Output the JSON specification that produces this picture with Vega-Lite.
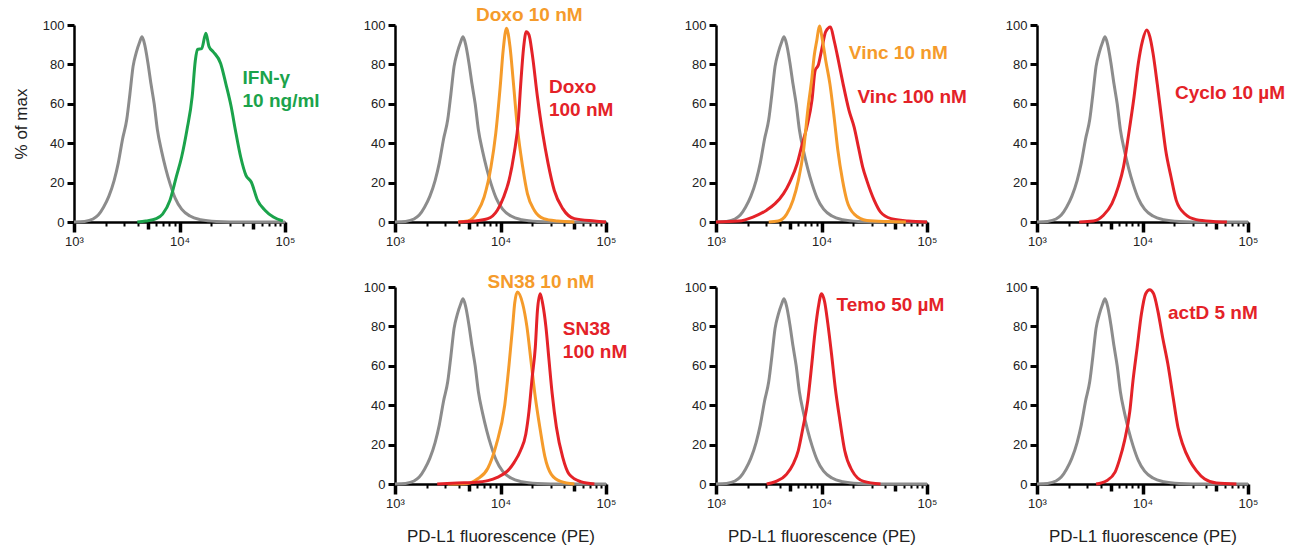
{
  "$schema": "https://vega.github.io/schema/vega-lite/v6.json",
  "background": "white",
  "padding": {"left": 12, "top": 6, "right": 5, "bottom": 5},
  "datasets": {
    "control": [
      {"x": 1000, "y": 0}, {"x": 1259, "y": 0.3}, {"x": 1514, "y": 1.5}, {"x": 1698, "y": 3.5},
      {"x": 1905, "y": 7.5}, {"x": 2138, "y": 13}, {"x": 2399, "y": 21}, {"x": 2630, "y": 30},
      {"x": 2884, "y": 42}, {"x": 3162, "y": 52}, {"x": 3388, "y": 65}, {"x": 3631, "y": 79},
      {"x": 3890, "y": 86}, {"x": 4169, "y": 91}, {"x": 4416, "y": 94}, {"x": 4677, "y": 90},
      {"x": 5012, "y": 81}, {"x": 5370, "y": 70}, {"x": 5754, "y": 60}, {"x": 6166, "y": 47},
      {"x": 6761, "y": 36}, {"x": 7413, "y": 27}, {"x": 8128, "y": 19.5}, {"x": 9120, "y": 12},
      {"x": 10471, "y": 6.5}, {"x": 12589, "y": 3}, {"x": 15849, "y": 1.2}, {"x": 22387, "y": 0.3},
      {"x": 39811, "y": 0}, {"x": 100000, "y": 0}
    ],
    "treated": [
      {"panel": "IFN", "series": "IFN-γ 10 ng/ml", "x": 3981, "y": 0},
      {"panel": "IFN", "series": "IFN-γ 10 ng/ml", "x": 4786, "y": 0.5},
      {"panel": "IFN", "series": "IFN-γ 10 ng/ml", "x": 6026, "y": 1.7},
      {"panel": "IFN", "series": "IFN-γ 10 ng/ml", "x": 6918, "y": 4},
      {"panel": "IFN", "series": "IFN-γ 10 ng/ml", "x": 8128, "y": 11},
      {"panel": "IFN", "series": "IFN-γ 10 ng/ml", "x": 9333, "y": 23},
      {"panel": "IFN", "series": "IFN-γ 10 ng/ml", "x": 10471, "y": 33},
      {"panel": "IFN", "series": "IFN-γ 10 ng/ml", "x": 11749, "y": 46.6},
      {"panel": "IFN", "series": "IFN-γ 10 ng/ml", "x": 13183, "y": 63.6},
      {"panel": "IFN", "series": "IFN-γ 10 ng/ml", "x": 14125, "y": 82},
      {"panel": "IFN", "series": "IFN-γ 10 ng/ml", "x": 14791, "y": 87.6},
      {"panel": "IFN", "series": "IFN-γ 10 ng/ml", "x": 16218, "y": 88},
      {"panel": "IFN", "series": "IFN-γ 10 ng/ml", "x": 17783, "y": 95.8},
      {"panel": "IFN", "series": "IFN-γ 10 ng/ml", "x": 19055, "y": 89},
      {"panel": "IFN", "series": "IFN-γ 10 ng/ml", "x": 20893, "y": 86.4},
      {"panel": "IFN", "series": "IFN-γ 10 ng/ml", "x": 24547, "y": 80.5},
      {"panel": "IFN", "series": "IFN-γ 10 ng/ml", "x": 27542, "y": 70},
      {"panel": "IFN", "series": "IFN-γ 10 ng/ml", "x": 30903, "y": 58.5},
      {"panel": "IFN", "series": "IFN-γ 10 ng/ml", "x": 33884, "y": 46.6},
      {"panel": "IFN", "series": "IFN-γ 10 ng/ml", "x": 38019, "y": 33},
      {"panel": "IFN", "series": "IFN-γ 10 ng/ml", "x": 42658, "y": 23.7},
      {"panel": "IFN", "series": "IFN-γ 10 ng/ml", "x": 47863, "y": 20.3},
      {"panel": "IFN", "series": "IFN-γ 10 ng/ml", "x": 54954, "y": 11},
      {"panel": "IFN", "series": "IFN-γ 10 ng/ml", "x": 64565, "y": 6},
      {"panel": "IFN", "series": "IFN-γ 10 ng/ml", "x": 77625, "y": 2.5},
      {"panel": "IFN", "series": "IFN-γ 10 ng/ml", "x": 95499, "y": 0.5},

      {"panel": "Doxo", "series": "Doxo 10 nM", "x": 3981, "y": 0},
      {"panel": "Doxo", "series": "Doxo 10 nM", "x": 4898, "y": 0.5},
      {"panel": "Doxo", "series": "Doxo 10 nM", "x": 6026, "y": 5},
      {"panel": "Doxo", "series": "Doxo 10 nM", "x": 7000, "y": 12.7},
      {"panel": "Doxo", "series": "Doxo 10 nM", "x": 8128, "y": 28},
      {"panel": "Doxo", "series": "Doxo 10 nM", "x": 9016, "y": 45},
      {"panel": "Doxo", "series": "Doxo 10 nM", "x": 9931, "y": 68.6},
      {"panel": "Doxo", "series": "Doxo 10 nM", "x": 10593, "y": 87},
      {"panel": "Doxo", "series": "Doxo 10 nM", "x": 11402, "y": 98.3},
      {"panel": "Doxo", "series": "Doxo 10 nM", "x": 12303, "y": 89},
      {"panel": "Doxo", "series": "Doxo 10 nM", "x": 13183, "y": 72},
      {"panel": "Doxo", "series": "Doxo 10 nM", "x": 14454, "y": 48},
      {"panel": "Doxo", "series": "Doxo 10 nM", "x": 16218, "y": 28},
      {"panel": "Doxo", "series": "Doxo 10 nM", "x": 17989, "y": 14.4},
      {"panel": "Doxo", "series": "Doxo 10 nM", "x": 20893, "y": 6},
      {"panel": "Doxo", "series": "Doxo 10 nM", "x": 25704, "y": 1.7},
      {"panel": "Doxo", "series": "Doxo 10 nM", "x": 34674, "y": 0.5},
      {"panel": "Doxo", "series": "Doxo 10 nM", "x": 50119, "y": 0},

      {"panel": "Doxo", "series": "Doxo 100 nM", "x": 3981, "y": 0},
      {"panel": "Doxo", "series": "Doxo 100 nM", "x": 5623, "y": 0.5},
      {"panel": "Doxo", "series": "Doxo 100 nM", "x": 7586, "y": 1.7},
      {"panel": "Doxo", "series": "Doxo 100 nM", "x": 9333, "y": 6},
      {"panel": "Doxo", "series": "Doxo 100 nM", "x": 10715, "y": 12.7},
      {"panel": "Doxo", "series": "Doxo 100 nM", "x": 12023, "y": 21},
      {"panel": "Doxo", "series": "Doxo 100 nM", "x": 13490, "y": 35},
      {"panel": "Doxo", "series": "Doxo 100 nM", "x": 14791, "y": 52},
      {"panel": "Doxo", "series": "Doxo 100 nM", "x": 15488, "y": 68.6},
      {"panel": "Doxo", "series": "Doxo 100 nM", "x": 16596, "y": 89},
      {"panel": "Doxo", "series": "Doxo 100 nM", "x": 17539, "y": 96.6},
      {"panel": "Doxo", "series": "Doxo 100 nM", "x": 18621, "y": 95},
      {"panel": "Doxo", "series": "Doxo 100 nM", "x": 19953, "y": 85.6},
      {"panel": "Doxo", "series": "Doxo 100 nM", "x": 22387, "y": 63.6},
      {"panel": "Doxo", "series": "Doxo 100 nM", "x": 25119, "y": 45},
      {"panel": "Doxo", "series": "Doxo 100 nM", "x": 28184, "y": 30},
      {"panel": "Doxo", "series": "Doxo 100 nM", "x": 32359, "y": 16},
      {"panel": "Doxo", "series": "Doxo 100 nM", "x": 38905, "y": 6.8},
      {"panel": "Doxo", "series": "Doxo 100 nM", "x": 50119, "y": 1.7},
      {"panel": "Doxo", "series": "Doxo 100 nM", "x": 77625, "y": 0.5},
      {"panel": "Doxo", "series": "Doxo 100 nM", "x": 100000, "y": 0},

      {"panel": "Vinc", "series": "Vinc 100 nM", "x": 1000, "y": 0},
      {"panel": "Vinc", "series": "Vinc 100 nM", "x": 1660, "y": 0.5},
      {"panel": "Vinc", "series": "Vinc 100 nM", "x": 2239, "y": 2.5},
      {"panel": "Vinc", "series": "Vinc 100 nM", "x": 3020, "y": 6},
      {"panel": "Vinc", "series": "Vinc 100 nM", "x": 3631, "y": 9.3},
      {"panel": "Vinc", "series": "Vinc 100 nM", "x": 4365, "y": 14.4},
      {"panel": "Vinc", "series": "Vinc 100 nM", "x": 5012, "y": 20.3},
      {"panel": "Vinc", "series": "Vinc 100 nM", "x": 5888, "y": 29.7},
      {"panel": "Vinc", "series": "Vinc 100 nM", "x": 6457, "y": 38},
      {"panel": "Vinc", "series": "Vinc 100 nM", "x": 7244, "y": 48},
      {"panel": "Vinc", "series": "Vinc 100 nM", "x": 8128, "y": 62},
      {"panel": "Vinc", "series": "Vinc 100 nM", "x": 8710, "y": 77},
      {"panel": "Vinc", "series": "Vinc 100 nM", "x": 9333, "y": 79.7},
      {"panel": "Vinc", "series": "Vinc 100 nM", "x": 10000, "y": 87},
      {"panel": "Vinc", "series": "Vinc 100 nM", "x": 10965, "y": 96.6},
      {"panel": "Vinc", "series": "Vinc 100 nM", "x": 12162, "y": 99},
      {"panel": "Vinc", "series": "Vinc 100 nM", "x": 13183, "y": 92},
      {"panel": "Vinc", "series": "Vinc 100 nM", "x": 14454, "y": 82},
      {"panel": "Vinc", "series": "Vinc 100 nM", "x": 16032, "y": 70},
      {"panel": "Vinc", "series": "Vinc 100 nM", "x": 18197, "y": 56.8},
      {"panel": "Vinc", "series": "Vinc 100 nM", "x": 20417, "y": 48},
      {"panel": "Vinc", "series": "Vinc 100 nM", "x": 22387, "y": 38},
      {"panel": "Vinc", "series": "Vinc 100 nM", "x": 24547, "y": 28},
      {"panel": "Vinc", "series": "Vinc 100 nM", "x": 26915, "y": 21},
      {"panel": "Vinc", "series": "Vinc 100 nM", "x": 31623, "y": 11},
      {"panel": "Vinc", "series": "Vinc 100 nM", "x": 36308, "y": 5},
      {"panel": "Vinc", "series": "Vinc 100 nM", "x": 45709, "y": 1.7},
      {"panel": "Vinc", "series": "Vinc 100 nM", "x": 66069, "y": 0.5},
      {"panel": "Vinc", "series": "Vinc 100 nM", "x": 100000, "y": 0},

      {"panel": "Vinc", "series": "Vinc 10 nM", "x": 3162, "y": 0},
      {"panel": "Vinc", "series": "Vinc 10 nM", "x": 3890, "y": 0.5},
      {"panel": "Vinc", "series": "Vinc 10 nM", "x": 4677, "y": 4},
      {"panel": "Vinc", "series": "Vinc 10 nM", "x": 5370, "y": 11},
      {"panel": "Vinc", "series": "Vinc 10 nM", "x": 6026, "y": 21},
      {"panel": "Vinc", "series": "Vinc 10 nM", "x": 6761, "y": 36.4},
      {"panel": "Vinc", "series": "Vinc 10 nM", "x": 7413, "y": 56.8},
      {"panel": "Vinc", "series": "Vinc 10 nM", "x": 8128, "y": 73.7},
      {"panel": "Vinc", "series": "Vinc 10 nM", "x": 8511, "y": 84},
      {"panel": "Vinc", "series": "Vinc 10 nM", "x": 9016, "y": 92},
      {"panel": "Vinc", "series": "Vinc 10 nM", "x": 9550, "y": 99.5},
      {"panel": "Vinc", "series": "Vinc 10 nM", "x": 10233, "y": 92},
      {"panel": "Vinc", "series": "Vinc 10 nM", "x": 10965, "y": 82},
      {"panel": "Vinc", "series": "Vinc 10 nM", "x": 12023, "y": 70},
      {"panel": "Vinc", "series": "Vinc 10 nM", "x": 13183, "y": 53},
      {"panel": "Vinc", "series": "Vinc 10 nM", "x": 14289, "y": 36.4},
      {"panel": "Vinc", "series": "Vinc 10 nM", "x": 15849, "y": 21},
      {"panel": "Vinc", "series": "Vinc 10 nM", "x": 17378, "y": 11},
      {"panel": "Vinc", "series": "Vinc 10 nM", "x": 20417, "y": 4},
      {"panel": "Vinc", "series": "Vinc 10 nM", "x": 26915, "y": 0.8},
      {"panel": "Vinc", "series": "Vinc 10 nM", "x": 42658, "y": 0.2},
      {"panel": "Vinc", "series": "Vinc 10 nM", "x": 63096, "y": 0},

      {"panel": "Cyclo", "series": "Cyclo 10 µM", "x": 2512, "y": 0},
      {"panel": "Cyclo", "series": "Cyclo 10 µM", "x": 3428, "y": 0.5},
      {"panel": "Cyclo", "series": "Cyclo 10 µM", "x": 4266, "y": 3.4},
      {"panel": "Cyclo", "series": "Cyclo 10 µM", "x": 5129, "y": 9.3},
      {"panel": "Cyclo", "series": "Cyclo 10 µM", "x": 5888, "y": 17.8},
      {"panel": "Cyclo", "series": "Cyclo 10 µM", "x": 6607, "y": 28},
      {"panel": "Cyclo", "series": "Cyclo 10 µM", "x": 7413, "y": 45},
      {"panel": "Cyclo", "series": "Cyclo 10 µM", "x": 8318, "y": 63.6},
      {"panel": "Cyclo", "series": "Cyclo 10 µM", "x": 9120, "y": 80.5},
      {"panel": "Cyclo", "series": "Cyclo 10 µM", "x": 10000, "y": 92},
      {"panel": "Cyclo", "series": "Cyclo 10 µM", "x": 10965, "y": 97.5},
      {"panel": "Cyclo", "series": "Cyclo 10 µM", "x": 11749, "y": 94},
      {"panel": "Cyclo", "series": "Cyclo 10 µM", "x": 12589, "y": 85.6},
      {"panel": "Cyclo", "series": "Cyclo 10 µM", "x": 13804, "y": 70},
      {"panel": "Cyclo", "series": "Cyclo 10 µM", "x": 15136, "y": 53},
      {"panel": "Cyclo", "series": "Cyclo 10 µM", "x": 16596, "y": 36.4},
      {"panel": "Cyclo", "series": "Cyclo 10 µM", "x": 18621, "y": 23},
      {"panel": "Cyclo", "series": "Cyclo 10 µM", "x": 20893, "y": 11},
      {"panel": "Cyclo", "series": "Cyclo 10 µM", "x": 25119, "y": 4.2},
      {"panel": "Cyclo", "series": "Cyclo 10 µM", "x": 32359, "y": 1.2},
      {"panel": "Cyclo", "series": "Cyclo 10 µM", "x": 46774, "y": 0.3},
      {"panel": "Cyclo", "series": "Cyclo 10 µM", "x": 63096, "y": 0},

      {"panel": "SN38", "series": "SN38 10 nM", "x": 3162, "y": 0},
      {"panel": "SN38", "series": "SN38 10 nM", "x": 4898, "y": 0.3},
      {"panel": "SN38", "series": "SN38 10 nM", "x": 6026, "y": 2.5},
      {"panel": "SN38", "series": "SN38 10 nM", "x": 7586, "y": 8},
      {"panel": "SN38", "series": "SN38 10 nM", "x": 9120, "y": 20},
      {"panel": "SN38", "series": "SN38 10 nM", "x": 10965, "y": 40},
      {"panel": "SN38", "series": "SN38 10 nM", "x": 12023, "y": 60},
      {"panel": "SN38", "series": "SN38 10 nM", "x": 13032, "y": 80},
      {"panel": "SN38", "series": "SN38 10 nM", "x": 13646, "y": 92},
      {"panel": "SN38", "series": "SN38 10 nM", "x": 14454, "y": 97.5},
      {"panel": "SN38", "series": "SN38 10 nM", "x": 16218, "y": 91.5},
      {"panel": "SN38", "series": "SN38 10 nM", "x": 17783, "y": 80},
      {"panel": "SN38", "series": "SN38 10 nM", "x": 19498, "y": 62},
      {"panel": "SN38", "series": "SN38 10 nM", "x": 21380, "y": 44},
      {"panel": "SN38", "series": "SN38 10 nM", "x": 23714, "y": 28},
      {"panel": "SN38", "series": "SN38 10 nM", "x": 26303, "y": 14},
      {"panel": "SN38", "series": "SN38 10 nM", "x": 30200, "y": 5},
      {"panel": "SN38", "series": "SN38 10 nM", "x": 37154, "y": 1.3},
      {"panel": "SN38", "series": "SN38 10 nM", "x": 50119, "y": 0},

      {"panel": "SN38", "series": "SN38 100 nM", "x": 2512, "y": 0},
      {"panel": "SN38", "series": "SN38 100 nM", "x": 3890, "y": 0.5},
      {"panel": "SN38", "series": "SN38 100 nM", "x": 5623, "y": 0.8},
      {"panel": "SN38", "series": "SN38 100 nM", "x": 7586, "y": 1.7},
      {"panel": "SN38", "series": "SN38 100 nM", "x": 9333, "y": 3.4},
      {"panel": "SN38", "series": "SN38 100 nM", "x": 11749, "y": 6.8},
      {"panel": "SN38", "series": "SN38 100 nM", "x": 13490, "y": 11},
      {"panel": "SN38", "series": "SN38 100 nM", "x": 15488, "y": 17},
      {"panel": "SN38", "series": "SN38 100 nM", "x": 17378, "y": 25.4},
      {"panel": "SN38", "series": "SN38 100 nM", "x": 18621, "y": 37},
      {"panel": "SN38", "series": "SN38 100 nM", "x": 19953, "y": 54},
      {"panel": "SN38", "series": "SN38 100 nM", "x": 21380, "y": 69.5},
      {"panel": "SN38", "series": "SN38 100 nM", "x": 22387, "y": 88},
      {"panel": "SN38", "series": "SN38 100 nM", "x": 23768, "y": 96.6},
      {"panel": "SN38", "series": "SN38 100 nM", "x": 25119, "y": 91.5},
      {"panel": "SN38", "series": "SN38 100 nM", "x": 26915, "y": 80},
      {"panel": "SN38", "series": "SN38 100 nM", "x": 28840, "y": 62.7},
      {"panel": "SN38", "series": "SN38 100 nM", "x": 30903, "y": 45.8},
      {"panel": "SN38", "series": "SN38 100 nM", "x": 33884, "y": 28.8},
      {"panel": "SN38", "series": "SN38 100 nM", "x": 38905, "y": 13.5},
      {"panel": "SN38", "series": "SN38 100 nM", "x": 44668, "y": 5},
      {"panel": "SN38", "series": "SN38 100 nM", "x": 57544, "y": 1.2},
      {"panel": "SN38", "series": "SN38 100 nM", "x": 77625, "y": 0},

      {"panel": "Temo", "series": "Temo 50 µM", "x": 3020, "y": 0},
      {"panel": "Temo", "series": "Temo 50 µM", "x": 3715, "y": 1.3},
      {"panel": "Temo", "series": "Temo 50 µM", "x": 4677, "y": 5},
      {"panel": "Temo", "series": "Temo 50 µM", "x": 5370, "y": 10},
      {"panel": "Temo", "series": "Temo 50 µM", "x": 6026, "y": 17},
      {"panel": "Temo", "series": "Temo 50 µM", "x": 6683, "y": 28.8},
      {"panel": "Temo", "series": "Temo 50 µM", "x": 7413, "y": 42.4},
      {"panel": "Temo", "series": "Temo 50 µM", "x": 8035, "y": 59.3},
      {"panel": "Temo", "series": "Temo 50 µM", "x": 8650, "y": 76.3},
      {"panel": "Temo", "series": "Temo 50 µM", "x": 9333, "y": 89.8},
      {"panel": "Temo", "series": "Temo 50 µM", "x": 10000, "y": 96.6},
      {"panel": "Temo", "series": "Temo 50 µM", "x": 10715, "y": 92.4},
      {"panel": "Temo", "series": "Temo 50 µM", "x": 11482, "y": 81.4},
      {"panel": "Temo", "series": "Temo 50 µM", "x": 12445, "y": 66},
      {"panel": "Temo", "series": "Temo 50 µM", "x": 13490, "y": 49},
      {"panel": "Temo", "series": "Temo 50 µM", "x": 14962, "y": 32},
      {"panel": "Temo", "series": "Temo 50 µM", "x": 16596, "y": 17},
      {"panel": "Temo", "series": "Temo 50 µM", "x": 19498, "y": 6.8},
      {"panel": "Temo", "series": "Temo 50 µM", "x": 25119, "y": 1.3},
      {"panel": "Temo", "series": "Temo 50 µM", "x": 36308, "y": 0},

      {"panel": "actD", "series": "actD 5 nM", "x": 3631, "y": 0},
      {"panel": "actD", "series": "actD 5 nM", "x": 4571, "y": 1.7},
      {"panel": "actD", "series": "actD 5 nM", "x": 5495, "y": 6},
      {"panel": "actD", "series": "actD 5 nM", "x": 6026, "y": 12},
      {"panel": "actD", "series": "actD 5 nM", "x": 6761, "y": 22},
      {"panel": "actD", "series": "actD 5 nM", "x": 7586, "y": 37},
      {"panel": "actD", "series": "actD 5 nM", "x": 8128, "y": 52.5},
      {"panel": "actD", "series": "actD 5 nM", "x": 8913, "y": 69.5},
      {"panel": "actD", "series": "actD 5 nM", "x": 9772, "y": 86.4},
      {"panel": "actD", "series": "actD 5 nM", "x": 10715, "y": 96.6},
      {"panel": "actD", "series": "actD 5 nM", "x": 11695, "y": 98.6},
      {"panel": "actD", "series": "actD 5 nM", "x": 12735, "y": 96.6},
      {"panel": "actD", "series": "actD 5 nM", "x": 13964, "y": 88},
      {"panel": "actD", "series": "actD 5 nM", "x": 15488, "y": 74.6},
      {"panel": "actD", "series": "actD 5 nM", "x": 17378, "y": 61},
      {"panel": "actD", "series": "actD 5 nM", "x": 19498, "y": 44},
      {"panel": "actD", "series": "actD 5 nM", "x": 21677, "y": 28.8},
      {"panel": "actD", "series": "actD 5 nM", "x": 23988, "y": 20.3},
      {"panel": "actD", "series": "actD 5 nM", "x": 27990, "y": 11.9},
      {"panel": "actD", "series": "actD 5 nM", "x": 32359, "y": 6.8},
      {"panel": "actD", "series": "actD 5 nM", "x": 38905, "y": 2.5},
      {"panel": "actD", "series": "actD 5 nM", "x": 50119, "y": 0.5},
      {"panel": "actD", "series": "actD 5 nM", "x": 77625, "y": 0}
    ]
  },
  "columns": 4,
  "spacing": {"row": 65, "column": 110},
  "bounds": "flush",
  "concat": [
    {
      "width": 211, "height": 197,
      "layer": [
        {"data": {"name": "control"}, "mark": {"type": "line", "color": "#8c8c8c", "strokeWidth": 3, "interpolate": "monotone"},
         "encoding": {
          "x": {"field": "x", "type": "quantitative", "scale": {"type": "log", "domain": [1000, 100000], "nice": false},
                "axis": {"values": [1000,2000,3000,4000,5000,6000,7000,8000,9000,10000,20000,30000,40000,50000,60000,70000,80000,90000,100000],
                         "labelExpr": "datum.value == 1000 ? '10³' : datum.value == 10000 ? '10⁴' : datum.value == 100000 ? '10⁵' : ''",
                         "labelFlush": false, "labelOverlap": {"expr": "false"},
                         "tickSize": {"condition": [{"test": "datum.value == 1000 || datum.value == 10000 || datum.value == 100000", "value": 10}, {"test": "datum.value == 5000 || datum.value == 50000", "value": 7}], "value": 4},
                         "tickWidth": {"condition": {"test": "datum.value == 1000 || datum.value == 10000 || datum.value == 100000 || datum.value == 5000 || datum.value == 50000", "value": 3.5}, "value": 2},
                         "title": null}},
          "y": {"field": "y", "type": "quantitative", "scale": {"domain": [0, 100], "nice": false},
                "axis": {"values": [0,20,40,60,80,100], "tickCount": 6, "labelOverlap": {"expr": "false"}, "labelBound": false, "labelSeparation": 0, "title": "% of max"}}
         }},
        {"data": {"name": "treated"}, "transform": [{"filter": "datum.panel == 'IFN'"}],
         "mark": {"type": "line", "strokeWidth": 3, "interpolate": "monotone"},
         "encoding": {"x": {"field": "x", "type": "quantitative"}, "y": {"field": "y", "type": "quantitative"},
          "color": {"field": "series", "type": "nominal", "legend": null,
            "scale": {"domain": ["IFN-γ 10 ng/ml","Doxo 10 nM","Doxo 100 nM","Vinc 10 nM","Vinc 100 nM","Cyclo 10 µM","SN38 10 nM","SN38 100 nM","Temo 50 µM","actD 5 nM"],
                      "range": ["#1ba34b","#f59b2b","#e42228","#f59b2b","#e42228","#e42228","#f59b2b","#e42228","#e42228","#e42228"]}}}},
        {"data": {"values": [{}]}, "mark": {"type": "text", "text": ["IFN-γ", "10 ng/ml"], "color": "#1ba34b", "align": "left", "baseline": "middle", "lineHeight": 23},
         "encoding": {"x": {"datum": 39600}, "y": {"datum": 73.3}}}
      ]
    },
    {
      "width": 211, "height": 197,
      "layer": [
        {"data": {"name": "control"}, "mark": {"type": "line", "color": "#8c8c8c", "strokeWidth": 3, "interpolate": "monotone"},
         "encoding": {
          "x": {"field": "x", "type": "quantitative", "scale": {"type": "log", "domain": [1000, 100000], "nice": false},
                "axis": {"values": [1000,2000,3000,4000,5000,6000,7000,8000,9000,10000,20000,30000,40000,50000,60000,70000,80000,90000,100000],
                         "labelExpr": "datum.value == 1000 ? '10³' : datum.value == 10000 ? '10⁴' : datum.value == 100000 ? '10⁵' : ''",
                         "labelFlush": false, "labelOverlap": {"expr": "false"},
                         "tickSize": {"condition": [{"test": "datum.value == 1000 || datum.value == 10000 || datum.value == 100000", "value": 10}, {"test": "datum.value == 5000 || datum.value == 50000", "value": 7}], "value": 4},
                         "tickWidth": {"condition": {"test": "datum.value == 1000 || datum.value == 10000 || datum.value == 100000 || datum.value == 5000 || datum.value == 50000", "value": 3.5}, "value": 2},
                         "title": null}},
          "y": {"field": "y", "type": "quantitative", "scale": {"domain": [0, 100], "nice": false},
                "axis": {"values": [0,20,40,60,80,100], "tickCount": 6, "labelOverlap": {"expr": "false"}, "labelBound": false, "labelSeparation": 0, "title": null}}
         }},
        {"data": {"name": "treated"}, "transform": [{"filter": "datum.panel == 'Doxo'"}],
         "mark": {"type": "line", "strokeWidth": 3, "interpolate": "monotone"},
         "encoding": {"x": {"field": "x", "type": "quantitative"}, "y": {"field": "y", "type": "quantitative"},
          "color": {"field": "series", "type": "nominal", "legend": null,
            "scale": {"domain": ["IFN-γ 10 ng/ml","Doxo 10 nM","Doxo 100 nM","Vinc 10 nM","Vinc 100 nM","Cyclo 10 µM","SN38 10 nM","SN38 100 nM","Temo 50 µM","actD 5 nM"],
                      "range": ["#1ba34b","#f59b2b","#e42228","#f59b2b","#e42228","#e42228","#f59b2b","#e42228","#e42228","#e42228"]}}}},
        {"data": {"values": [{}]}, "mark": {"type": "text", "text": "Doxo 10 nM", "color": "#f59b2b", "align": "left", "baseline": "middle"},
         "encoding": {"x": {"datum": 5860}, "y": {"datum": 105}}},
        {"data": {"values": [{}]}, "mark": {"type": "text", "text": ["Doxo", "100 nM"], "color": "#e42228", "align": "left", "baseline": "middle", "lineHeight": 23},
         "encoding": {"x": {"datum": 28800}, "y": {"datum": 68.3}}}
      ]
    },
    {
      "width": 211, "height": 197,
      "layer": [
        {"data": {"name": "control"}, "mark": {"type": "line", "color": "#8c8c8c", "strokeWidth": 3, "interpolate": "monotone"},
         "encoding": {
          "x": {"field": "x", "type": "quantitative", "scale": {"type": "log", "domain": [1000, 100000], "nice": false},
                "axis": {"values": [1000,2000,3000,4000,5000,6000,7000,8000,9000,10000,20000,30000,40000,50000,60000,70000,80000,90000,100000],
                         "labelExpr": "datum.value == 1000 ? '10³' : datum.value == 10000 ? '10⁴' : datum.value == 100000 ? '10⁵' : ''",
                         "labelFlush": false, "labelOverlap": {"expr": "false"},
                         "tickSize": {"condition": [{"test": "datum.value == 1000 || datum.value == 10000 || datum.value == 100000", "value": 10}, {"test": "datum.value == 5000 || datum.value == 50000", "value": 7}], "value": 4},
                         "tickWidth": {"condition": {"test": "datum.value == 1000 || datum.value == 10000 || datum.value == 100000 || datum.value == 5000 || datum.value == 50000", "value": 3.5}, "value": 2},
                         "title": null}},
          "y": {"field": "y", "type": "quantitative", "scale": {"domain": [0, 100], "nice": false},
                "axis": {"values": [0,20,40,60,80,100], "tickCount": 6, "labelOverlap": {"expr": "false"}, "labelBound": false, "labelSeparation": 0, "title": null}}
         }},
        {"data": {"name": "treated"}, "transform": [{"filter": "datum.panel == 'Vinc'"}],
         "mark": {"type": "line", "strokeWidth": 3, "interpolate": "monotone"},
         "encoding": {"x": {"field": "x", "type": "quantitative"}, "y": {"field": "y", "type": "quantitative"},
          "color": {"field": "series", "type": "nominal", "legend": null,
            "scale": {"domain": ["IFN-γ 10 ng/ml","Doxo 10 nM","Doxo 100 nM","Vinc 10 nM","Vinc 100 nM","Cyclo 10 µM","SN38 10 nM","SN38 100 nM","Temo 50 µM","actD 5 nM"],
                      "range": ["#1ba34b","#f59b2b","#e42228","#f59b2b","#e42228","#e42228","#f59b2b","#e42228","#e42228","#e42228"]}}}},
        {"data": {"values": [{}]}, "mark": {"type": "text", "text": "Vinc 10 nM", "color": "#f59b2b", "align": "left", "baseline": "middle"},
         "encoding": {"x": {"datum": 18150}, "y": {"datum": 85.6}}},
        {"data": {"values": [{}]}, "mark": {"type": "text", "text": "Vinc 100 nM", "color": "#e42228", "align": "left", "baseline": "middle"},
         "encoding": {"x": {"datum": 21900}, "y": {"datum": 63.6}}}
      ]
    },
    {
      "width": 211, "height": 197,
      "layer": [
        {"data": {"name": "control"}, "mark": {"type": "line", "color": "#8c8c8c", "strokeWidth": 3, "interpolate": "monotone"},
         "encoding": {
          "x": {"field": "x", "type": "quantitative", "scale": {"type": "log", "domain": [1000, 100000], "nice": false},
                "axis": {"values": [1000,2000,3000,4000,5000,6000,7000,8000,9000,10000,20000,30000,40000,50000,60000,70000,80000,90000,100000],
                         "labelExpr": "datum.value == 1000 ? '10³' : datum.value == 10000 ? '10⁴' : datum.value == 100000 ? '10⁵' : ''",
                         "labelFlush": false, "labelOverlap": {"expr": "false"},
                         "tickSize": {"condition": [{"test": "datum.value == 1000 || datum.value == 10000 || datum.value == 100000", "value": 10}, {"test": "datum.value == 5000 || datum.value == 50000", "value": 7}], "value": 4},
                         "tickWidth": {"condition": {"test": "datum.value == 1000 || datum.value == 10000 || datum.value == 100000 || datum.value == 5000 || datum.value == 50000", "value": 3.5}, "value": 2},
                         "title": null}},
          "y": {"field": "y", "type": "quantitative", "scale": {"domain": [0, 100], "nice": false},
                "axis": {"values": [0,20,40,60,80,100], "tickCount": 6, "labelOverlap": {"expr": "false"}, "labelBound": false, "labelSeparation": 0, "title": null}}
         }},
        {"data": {"name": "treated"}, "transform": [{"filter": "datum.panel == 'Cyclo'"}],
         "mark": {"type": "line", "strokeWidth": 3, "interpolate": "monotone"},
         "encoding": {"x": {"field": "x", "type": "quantitative"}, "y": {"field": "y", "type": "quantitative"},
          "color": {"field": "series", "type": "nominal", "legend": null,
            "scale": {"domain": ["IFN-γ 10 ng/ml","Doxo 10 nM","Doxo 100 nM","Vinc 10 nM","Vinc 100 nM","Cyclo 10 µM","SN38 10 nM","SN38 100 nM","Temo 50 µM","actD 5 nM"],
                      "range": ["#1ba34b","#f59b2b","#e42228","#f59b2b","#e42228","#e42228","#f59b2b","#e42228","#e42228","#e42228"]}}}},
        {"data": {"values": [{}]}, "mark": {"type": "text", "text": "Cyclo 10 µM", "color": "#e42228", "align": "left", "baseline": "middle"},
         "encoding": {"x": {"datum": 20300}, "y": {"datum": 65.3}}}
      ]
    },
    {
      "width": 211, "height": 197,
      "data": {"values": [{}]},
      "mark": {"type": "point", "opacity": 0},
      "encoding": {}
    },
    {
      "width": 211, "height": 197,
      "layer": [
        {"data": {"name": "control"}, "mark": {"type": "line", "color": "#8c8c8c", "strokeWidth": 3, "interpolate": "monotone"},
         "encoding": {
          "x": {"field": "x", "type": "quantitative", "scale": {"type": "log", "domain": [1000, 100000], "nice": false},
                "axis": {"values": [1000,2000,3000,4000,5000,6000,7000,8000,9000,10000,20000,30000,40000,50000,60000,70000,80000,90000,100000],
                         "labelExpr": "datum.value == 1000 ? '10³' : datum.value == 10000 ? '10⁴' : datum.value == 100000 ? '10⁵' : ''",
                         "labelFlush": false, "labelOverlap": {"expr": "false"},
                         "tickSize": {"condition": [{"test": "datum.value == 1000 || datum.value == 10000 || datum.value == 100000", "value": 10}, {"test": "datum.value == 5000 || datum.value == 50000", "value": 7}], "value": 4},
                         "tickWidth": {"condition": {"test": "datum.value == 1000 || datum.value == 10000 || datum.value == 100000 || datum.value == 5000 || datum.value == 50000", "value": 3.5}, "value": 2},
                         "title": "PD-L1 fluorescence (PE)"}},
          "y": {"field": "y", "type": "quantitative", "scale": {"domain": [0, 100], "nice": false},
                "axis": {"values": [0,20,40,60,80,100], "tickCount": 6, "labelOverlap": {"expr": "false"}, "labelBound": false, "labelSeparation": 0, "title": null}}
         }},
        {"data": {"name": "treated"}, "transform": [{"filter": "datum.panel == 'SN38'"}],
         "mark": {"type": "line", "strokeWidth": 3, "interpolate": "monotone"},
         "encoding": {"x": {"field": "x", "type": "quantitative"}, "y": {"field": "y", "type": "quantitative"},
          "color": {"field": "series", "type": "nominal", "legend": null,
            "scale": {"domain": ["IFN-γ 10 ng/ml","Doxo 10 nM","Doxo 100 nM","Vinc 10 nM","Vinc 100 nM","Cyclo 10 µM","SN38 10 nM","SN38 100 nM","Temo 50 µM","actD 5 nM"],
                      "range": ["#1ba34b","#f59b2b","#e42228","#f59b2b","#e42228","#e42228","#f59b2b","#e42228","#e42228","#e42228"]}}}},
        {"data": {"values": [{}]}, "mark": {"type": "text", "text": "SN38 10 nM", "color": "#f59b2b", "align": "left", "baseline": "middle"},
         "encoding": {"x": {"datum": 7540}, "y": {"datum": 102.5}}},
        {"data": {"values": [{}]}, "mark": {"type": "text", "text": ["SN38", "100 nM"], "color": "#e42228", "align": "left", "baseline": "middle", "lineHeight": 23},
         "encoding": {"x": {"datum": 39000}, "y": {"datum": 78.8}}}
      ]
    },
    {
      "width": 211, "height": 197,
      "layer": [
        {"data": {"name": "control"}, "mark": {"type": "line", "color": "#8c8c8c", "strokeWidth": 3, "interpolate": "monotone"},
         "encoding": {
          "x": {"field": "x", "type": "quantitative", "scale": {"type": "log", "domain": [1000, 100000], "nice": false},
                "axis": {"values": [1000,2000,3000,4000,5000,6000,7000,8000,9000,10000,20000,30000,40000,50000,60000,70000,80000,90000,100000],
                         "labelExpr": "datum.value == 1000 ? '10³' : datum.value == 10000 ? '10⁴' : datum.value == 100000 ? '10⁵' : ''",
                         "labelFlush": false, "labelOverlap": {"expr": "false"},
                         "tickSize": {"condition": [{"test": "datum.value == 1000 || datum.value == 10000 || datum.value == 100000", "value": 10}, {"test": "datum.value == 5000 || datum.value == 50000", "value": 7}], "value": 4},
                         "tickWidth": {"condition": {"test": "datum.value == 1000 || datum.value == 10000 || datum.value == 100000 || datum.value == 5000 || datum.value == 50000", "value": 3.5}, "value": 2},
                         "title": "PD-L1 fluorescence (PE)"}},
          "y": {"field": "y", "type": "quantitative", "scale": {"domain": [0, 100], "nice": false},
                "axis": {"values": [0,20,40,60,80,100], "tickCount": 6, "labelOverlap": {"expr": "false"}, "labelBound": false, "labelSeparation": 0, "title": null}}
         }},
        {"data": {"name": "treated"}, "transform": [{"filter": "datum.panel == 'Temo'"}],
         "mark": {"type": "line", "strokeWidth": 3, "interpolate": "monotone"},
         "encoding": {"x": {"field": "x", "type": "quantitative"}, "y": {"field": "y", "type": "quantitative"},
          "color": {"field": "series", "type": "nominal", "legend": null,
            "scale": {"domain": ["IFN-γ 10 ng/ml","Doxo 10 nM","Doxo 100 nM","Vinc 10 nM","Vinc 100 nM","Cyclo 10 µM","SN38 10 nM","SN38 100 nM","Temo 50 µM","actD 5 nM"],
                      "range": ["#1ba34b","#f59b2b","#e42228","#f59b2b","#e42228","#e42228","#f59b2b","#e42228","#e42228","#e42228"]}}}},
        {"data": {"values": [{}]}, "mark": {"type": "text", "text": "Temo 50 µM", "color": "#e42228", "align": "left", "baseline": "middle"},
         "encoding": {"x": {"datum": 13900}, "y": {"datum": 90.7}}}
      ]
    },
    {
      "width": 211, "height": 197,
      "layer": [
        {"data": {"name": "control"}, "mark": {"type": "line", "color": "#8c8c8c", "strokeWidth": 3, "interpolate": "monotone"},
         "encoding": {
          "x": {"field": "x", "type": "quantitative", "scale": {"type": "log", "domain": [1000, 100000], "nice": false},
                "axis": {"values": [1000,2000,3000,4000,5000,6000,7000,8000,9000,10000,20000,30000,40000,50000,60000,70000,80000,90000,100000],
                         "labelExpr": "datum.value == 1000 ? '10³' : datum.value == 10000 ? '10⁴' : datum.value == 100000 ? '10⁵' : ''",
                         "labelFlush": false, "labelOverlap": {"expr": "false"},
                         "tickSize": {"condition": [{"test": "datum.value == 1000 || datum.value == 10000 || datum.value == 100000", "value": 10}, {"test": "datum.value == 5000 || datum.value == 50000", "value": 7}], "value": 4},
                         "tickWidth": {"condition": {"test": "datum.value == 1000 || datum.value == 10000 || datum.value == 100000 || datum.value == 5000 || datum.value == 50000", "value": 3.5}, "value": 2},
                         "title": "PD-L1 fluorescence (PE)"}},
          "y": {"field": "y", "type": "quantitative", "scale": {"domain": [0, 100], "nice": false},
                "axis": {"values": [0,20,40,60,80,100], "tickCount": 6, "labelOverlap": {"expr": "false"}, "labelBound": false, "labelSeparation": 0, "title": null}}
         }},
        {"data": {"name": "treated"}, "transform": [{"filter": "datum.panel == 'actD'"}],
         "mark": {"type": "line", "strokeWidth": 3, "interpolate": "monotone"},
         "encoding": {"x": {"field": "x", "type": "quantitative"}, "y": {"field": "y", "type": "quantitative"},
          "color": {"field": "series", "type": "nominal", "legend": null,
            "scale": {"domain": ["IFN-γ 10 ng/ml","Doxo 10 nM","Doxo 100 nM","Vinc 10 nM","Vinc 100 nM","Cyclo 10 µM","SN38 10 nM","SN38 100 nM","Temo 50 µM","actD 5 nM"],
                      "range": ["#1ba34b","#f59b2b","#e42228","#f59b2b","#e42228","#e42228","#f59b2b","#e42228","#e42228","#e42228"]}}}},
        {"data": {"values": [{}]}, "mark": {"type": "text", "text": "actD 5 nM", "color": "#e42228", "align": "left", "baseline": "middle"},
         "encoding": {"x": {"datum": 17460}, "y": {"datum": 86.8}}}
      ]
    }
  ],
  "config": {
    "view": {"stroke": null},
    "axis": {
      "domainColor": "#000000", "domainWidth": 2.5, "tickColor": "#000000", "tickWidth": 3, "tickSize": 7,
      "grid": false, "labelFont": "Liberation Sans", "labelFontSize": 13, "labelColor": "#222222", "labelPadding": 3,
      "labelOverlap": false,
      "titleFont": "Liberation Sans", "titleFontSize": 17, "titleFontWeight": "normal", "titleColor": "#222222"
    },
    "axisX": {"titlePadding": 18},
    "axisY": {"titlePadding": 12, "labelOverlap": false},
    "text": {"font": "Liberation Sans", "fontWeight": "bold", "fontSize": 19},
    "line": {"strokeJoin": "round"}
  }
}
